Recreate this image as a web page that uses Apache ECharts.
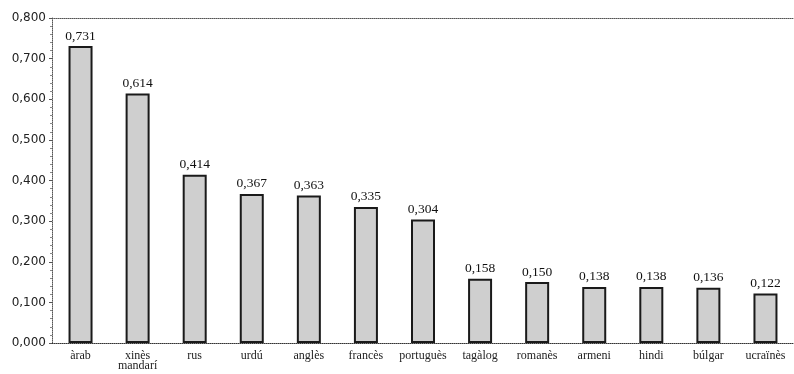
<!DOCTYPE html>
<html>
<head>
<meta charset="utf-8">
<script src="https://cdn.jsdelivr.net/npm/echarts@6/dist/echarts.min.js"></script>
<style>
  html, body { margin: 0; padding: 0; background: #ffffff; }
  #chart { width: 794px; height: 374px; }
</style>
</head>
<body>
<div id="chart"></div>
<script>
// Languages and their values
const categories = ['àrab', 'xinès\nmandarí', 'rus', 'urdú', 'anglès', 'francès', 'portuguès',
  'tagàlog', 'romanès', 'armeni', 'hindi', 'búlgar', 'ucraïnès'];
const values = [0.731, 0.614, 0.414, 0.367, 0.363, 0.335, 0.304, 0.158, 0.150, 0.138, 0.138, 0.136, 0.122];

const fmt = v => v.toFixed(3).replace('.', ',');
const FONT = 'Liberation Serif';

const chart = echarts.init(document.getElementById('chart'), null, { renderer: 'canvas' });
chart.setOption({
  animation: false,
  backgroundColor: '#ffffff',
  grid: { left: 52, right: -2, top: 18, bottom: 31 },
  xAxis: [{
    type: 'category',
    data: categories,
    axisLine: { lineStyle: { color: '#333', type: 'dotted', width: 1 } },
    axisTick: { show: false },
    axisLabel: {
      color: '#222', fontFamily: FONT, fontSize: 12, margin: 8, lineHeight: 10, interval: 0
    }
  }, {
    type: 'category',
    position: 'top',
    data: categories,
    axisLine: { lineStyle: { color: '#555', type: 'dotted', width: 1 } },
    axisTick: { show: false },
    axisLabel: { show: false }
  }],
  yAxis: {
    type: 'value',
    min: 0, max: 0.8, interval: 0.1,
    axisLine: { show: true, lineStyle: { color: '#555', type: 'dotted', width: 1 } },
    axisTick: { show: true, length: 3, lineStyle: { color: '#555' } },
    minorTick: { show: true, splitNumber: 5, length: 2, lineStyle: { color: '#888' } },
    splitLine: { show: false },
    axisLabel: {
      color: '#222', fontFamily: 'DejaVu Sans', fontSize: 12, margin: 6,
      formatter: fmt
    }
  },
  series: [{
    type: 'bar',
    data: values,
    barWidth: 24,
    itemStyle: {
      color: '#cfcfcf',
      borderColor: '#1a1a1a',
      borderWidth: 2
    },
    label: {
      show: true,
      position: 'top',
      distance: 3,
      color: '#111',
      fontFamily: FONT,
      fontSize: 13.5,
      formatter: p => fmt(p.value)
    }
  }]
});
</script>
</body>
</html>
